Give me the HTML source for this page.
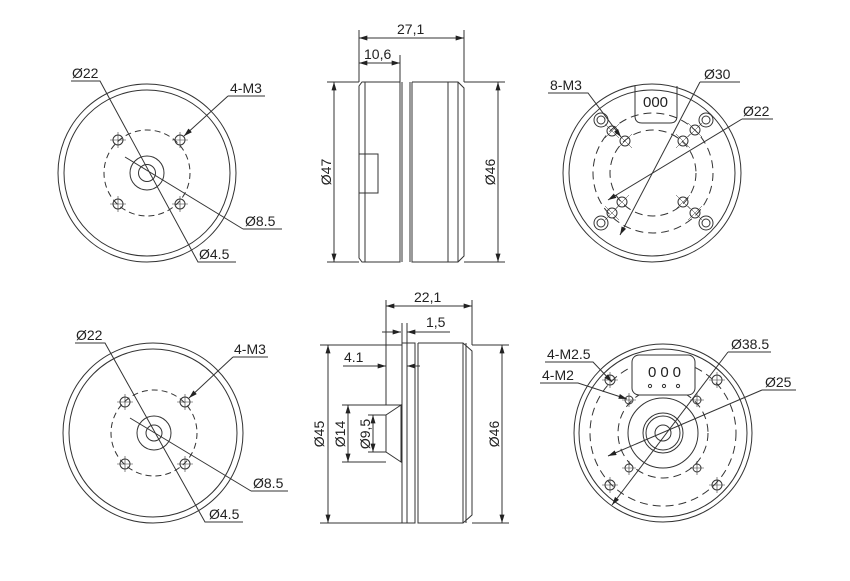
<!DOCTYPE html>
<html><head><meta charset="utf-8"><style>
html,body{margin:0;padding:0;background:#fff;}
svg{display:block;}
text{font-family:"Liberation Sans",Arial,sans-serif;font-size:14px;fill:#222;}
</style></head><body>
<svg width="850" height="581" viewBox="0 0 850 581" xmlns="http://www.w3.org/2000/svg">
<defs>
<marker id="a" viewBox="0 0 10 6" refX="10" refY="3" markerWidth="9" markerHeight="5" orient="auto-start-reverse" markerUnits="userSpaceOnUse"><path d="M0,0 L10,3 L0,6 z" fill="#222"/></marker>
</defs>
<g stroke="#333" stroke-width="1" fill="none">

<!-- TOP LEFT -->
<circle cx="147" cy="173" r="89"/>
<circle cx="147" cy="173" r="83"/>
<circle cx="147" cy="173" r="43" stroke-dasharray="6,4"/>
<circle cx="147" cy="173" r="17"/>
<circle cx="147" cy="173" r="8.5"/>
<g>
<circle cx="118" cy="140" r="5"/><circle cx="180" cy="140" r="5"/>
<circle cx="118" cy="204" r="5"/><circle cx="180" cy="204" r="5"/>
<path d="M110 140h16M118 132v16M172 140h16M180 132v16M110 204h16M118 196v16M172 204h16M180 196v16" stroke-width="0.6"/>
</g>
<path d="M71 81H100L198 262H236"/>
<path d="M228 96H265"/><path d="M228 96L184 136" marker-end="url(#a)"/>
<path d="M243 229H282"/><path d="M243 229L125 157"/>

<!-- BOTTOM LEFT -->
<circle cx="153" cy="433" r="90"/>
<circle cx="153" cy="433" r="84"/>
<circle cx="154" cy="433" r="43" stroke-dasharray="6,4"/>
<circle cx="154" cy="433" r="17"/>
<circle cx="154" cy="433" r="8"/>
<circle cx="125" cy="402" r="5"/><circle cx="185" cy="402" r="5"/>
<circle cx="125" cy="464" r="5"/><circle cx="185" cy="464" r="5"/>
<path d="M117 402h16M125 394v16M177 402h16M185 394v16M117 464h16M125 456v16M177 464h16M185 456v16" stroke-width="0.6"/>
<path d="M75 343H105L205 522H243"/>
<path d="M233 357H268"/><path d="M233 357L189 398" marker-end="url(#a)"/>
<path d="M251 491H288"/><path d="M251 491L130 418"/>

<!-- TOP MIDDLE side view -->
<path d="M359 30V82M464 30V82M400 55V82"/>
<path d="M359 38H464" marker-start="url(#a)" marker-end="url(#a)"/>
<path d="M359 63H400" marker-start="url(#a)" marker-end="url(#a)"/>
<path d="M362 82H400V262H362L359 258V86Z"/>
<path d="M365 82V262"/>
<path d="M402 82V262M410 82V262M412 82H458L464 88V256L458 262H412V82M448 82V262M458 82V262"/>
<rect x="359" y="154" width="19" height="39"/>
<path d="M327 82H359M327 262H359"/>
<path d="M334 82V262" marker-start="url(#a)" marker-end="url(#a)"/>
<path d="M464 82H505M464 262H505"/>
<path d="M498 82V262" marker-start="url(#a)" marker-end="url(#a)"/>

<!-- BOTTOM MIDDLE side view -->
<path d="M386 300V405M472 300V345M402 323V345M407 323V345"/>
<path d="M386 306H472" marker-start="url(#a)" marker-end="url(#a)"/>
<path d="M382 332H401" marker-end="url(#a)"/><path d="M450 332H407" marker-end="url(#a)"/>
<path d="M343 366H386" marker-end="url(#a)"/><path d="M420 366H407" marker-end="url(#a)"/>
<path d="M402 343V523M407 343H415V523H407V343M418 343H463L472 351V515L463 523H418V343M463 343V523M466 343V523"/>
<path d="M402 343H407M402 523H407"/>
<path d="M386 415L386 452L401 462V405Z"/>
<path d="M320 345H402M320 523H402"/>
<path d="M328 345V523" marker-start="url(#a)" marker-end="url(#a)"/>
<path d="M342 405H401M342 462H386"/>
<path d="M348 405V462" marker-start="url(#a)" marker-end="url(#a)"/>
<path d="M368 415H386M368 452H386"/>
<path d="M373 415V452" marker-start="url(#a)" marker-end="url(#a)"/>
<path d="M472 345H509M472 523H509"/>
<path d="M502 345V523" marker-start="url(#a)" marker-end="url(#a)"/>

<!-- TOP RIGHT -->
<circle cx="652" cy="173" r="89"/>
<circle cx="652" cy="173" r="83"/>
<circle cx="653" cy="173" r="60" stroke-dasharray="8,5"/>
<circle cx="653" cy="173" r="43" stroke-dasharray="8,5"/>
<path d="M635 86V116Q635 123 642 123H670Q677 123 677 116V86"/>
<g>
<circle cx="601" cy="120" r="7"/><circle cx="601" cy="120" r="4"/>
<circle cx="706" cy="120" r="7"/><circle cx="706" cy="120" r="4"/>
<circle cx="601" cy="223" r="7"/><circle cx="601" cy="223" r="4"/>
<circle cx="706" cy="223" r="7"/><circle cx="706" cy="223" r="4"/>
<circle cx="612" cy="131" r="5"/><circle cx="625" cy="141" r="5"/>
<circle cx="695" cy="130" r="5"/><circle cx="683" cy="141" r="5"/>
<circle cx="622" cy="202" r="5"/><circle cx="612" cy="213" r="5"/>
<circle cx="683" cy="202" r="5"/><circle cx="695" cy="213" r="5"/>
<path d="M605 124l14 14M605 138l14-14M618 134l14 14M618 148l14-14M688 123l14 14M688 137l14-14M676 134l14 14M676 148l14-14M615 195l14 14M615 209l14-14M605 206l14 14M605 220l14-14M676 195l14 14M676 209l14-14M688 206l14 14M688 220l14-14" stroke-width="0.5"/>
</g>
<path d="M548 93H588L621 137" marker-end="url(#a)"/>
<path d="M700 82H740"/><path d="M700 82L620 235" marker-end="url(#a)"/>
<path d="M742 119H773"/><path d="M742 119L608 200" marker-end="url(#a)"/>

<!-- BOTTOM RIGHT -->
<circle cx="663" cy="433" r="89"/>
<circle cx="663" cy="433" r="84"/>
<circle cx="663" cy="433" r="73" stroke-dasharray="8,5"/>
<circle cx="663" cy="433" r="45" stroke-dasharray="8,5"/>
<circle cx="663" cy="433" r="35"/>
<circle cx="663" cy="433" r="20"/>
<circle cx="663" cy="433" r="17"/>
<circle cx="663" cy="433" r="8"/>
<rect x="632" y="355" width="63" height="40" rx="7" fill="#fff"/>
<circle cx="650" cy="386" r="1.6"/><circle cx="664" cy="386" r="1.6"/><circle cx="678" cy="386" r="1.6"/>
<circle cx="610" cy="380" r="5"/><circle cx="717" cy="380" r="5"/>
<circle cx="610" cy="485" r="5"/><circle cx="717" cy="485" r="5"/>
<circle cx="629" cy="400" r="4"/><circle cx="697" cy="400" r="4"/>
<circle cx="629" cy="468" r="4"/><circle cx="697" cy="468" r="4"/>
<path d="M602 380h16M610 372v16M709 380h16M717 372v16M602 485h16M610 477v16M709 485h16M717 477v16M622 400h14M629 393v14M690 400h14M697 393v14M622 468h14M629 461v14M690 468h14M697 461v14" stroke-width="0.6"/>
<path d="M545 362H593L612 382" marker-end="url(#a)"/>
<path d="M540 383H578L627 399" marker-end="url(#a)"/>
<path d="M728 352H771"/><path d="M728 352L612 505" marker-end="url(#a)"/>
<path d="M762 390H796"/><path d="M762 390L608 456" marker-end="url(#a)"/>
</g>

<text x="72" y="78">Ø22</text>
<text x="230" y="93">4-M3</text>
<text x="245" y="226">Ø8.5</text>
<text x="199" y="259">Ø4.5</text>

<text x="76" y="340">Ø22</text>
<text x="234" y="354">4-M3</text>
<text x="253" y="488">Ø8.5</text>
<text x="209" y="519">Ø4.5</text>

<text x="397" y="34">27,1</text>
<text x="364" y="59">10,6</text>
<text transform="translate(331,172) rotate(-90)" text-anchor="middle">Ø47</text>
<text transform="translate(495,172) rotate(-90)" text-anchor="middle">Ø46</text>

<text x="414" y="302">22,1</text>
<text x="426" y="327">1,5</text>
<text x="344" y="362">4.1</text>
<text transform="translate(324,434) rotate(-90)" text-anchor="middle">Ø45</text>
<text transform="translate(345,434) rotate(-90)" text-anchor="middle">Ø14</text>
<text transform="translate(370,434) rotate(-90)" text-anchor="middle">Ø9,5</text>
<text transform="translate(499,434) rotate(-90)" text-anchor="middle">Ø46</text>

<text x="550" y="90">8-M3</text>
<text x="704" y="79">Ø30</text>
<text x="743" y="116">Ø22</text>
<text x="643" y="107" style="font-size:15px">000</text>

<text x="547" y="359">4-M2.5</text>
<text x="542" y="380">4-M2</text>
<text x="731" y="349">Ø38.5</text>
<text x="765" y="387">Ø25</text>
<text x="648" y="377" style="font-size:15px" letter-spacing="4">000</text>
</svg>
</body></html>
